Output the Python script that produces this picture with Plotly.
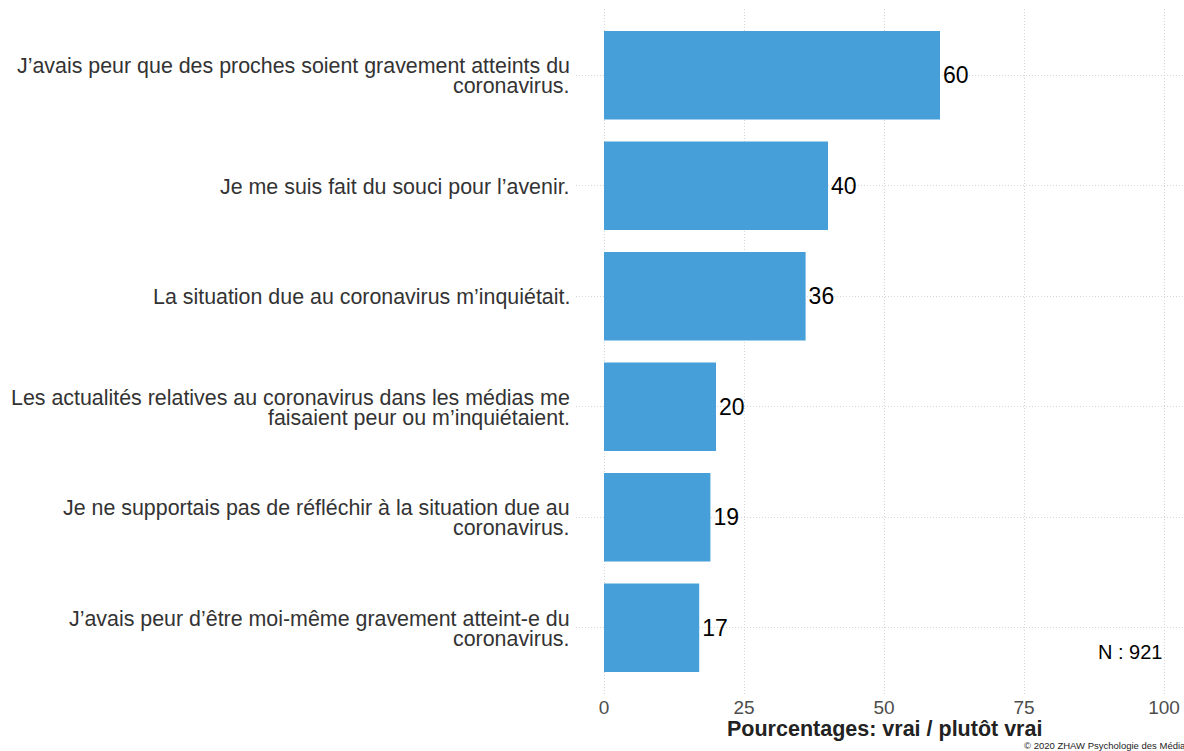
import plotly.graph_objects as go

# Survey items (top to bottom) and share answering "vrai / plutôt vrai"
items = [
    "J’avais peur que des proches soient gravement atteints du<br>coronavirus.",
    "Je me suis fait du souci pour l’avenir.",
    "La situation due au coronavirus m’inquiétait.",
    "Les actualités relatives au coronavirus dans les médias me<br>faisaient peur ou m’inquiétaient.",
    "Je ne supportais pas de réfléchir à la situation due au<br>coronavirus.",
    "J’avais peur d’être moi-même gravement atteint-e du<br>coronavirus.",
]
values = [60, 40, 36, 20, 19, 17]
x_ticks = [0, 25, 50, 75, 100]
n_total = 921

W, H = 1184, 751
FONT = "Liberation Sans, Arial, sans-serif"
BAR = "#469FD8"
GRID = "#D6D6D6"
LABEL_SIZE = 21.4
LINE_GAP = 20  # px between wrapped label lines (tight line height)

cats = list(range(len(items)))

fig = go.Figure(
    go.Bar(
        x=values,
        y=cats,
        orientation="h",
        width=0.8,
        marker=dict(color=BAR, line=dict(width=0)),
        text=[str(v) for v in values],
        textposition="outside",
        textfont=dict(family=FONT, size=23, color="#000000"),
        cliponaxis=False,
        hoverinfo="skip",
    )
)

annotations = []

# Category labels, right-aligned left of the panel, one annotation per line
for i, label in enumerate(items):
    lines = label.split("<br>")
    n = len(lines)
    for k, line in enumerate(lines):
        offset = ((n - 1) / 2 - k) * LINE_GAP
        annotations.append(dict(
            x=0, y=i, xref="paper", yref="y",
            text=line,
            xanchor="right", yanchor="middle",
            xshift=-4, yshift=offset - 1,
            showarrow=False,
            font=dict(family=FONT, size=LABEL_SIZE, color="#333333"),
        ))

# Axis title, centred under the 0–100 scale
annotations.append(dict(
    x=50, y=-35 / (H - 66), xref="x", yref="paper",
    text="<b>Pourcentages: vrai / plutôt vrai</b>",
    xanchor="center", yanchor="middle",
    showarrow=False,
    font=dict(family=FONT, size=21.5, color="#222222"),
))

# Sample size
annotations.append(dict(
    x=100, y=5.22, xref="x", yref="y",
    text=f"N : {n_total}",
    xanchor="right", yanchor="middle",
    showarrow=False,
    font=dict(family=FONT, size=20, color="#000000"),
))

# Copyright line
annotations.append(dict(
    x=(1022 - 576) / (W - 576), y=-57 / (H - 66),
    xref="paper", yref="paper",
    text="© 2020 ZHAW Psychologie des Médias",
    xanchor="left", yanchor="bottom",
    yshift=-2,
    showarrow=False,
    font=dict(family=FONT, size=9.5, color="#222222"),
))

fig.update_layout(
    width=W,
    height=H,
    margin=dict(l=576, r=0, t=9, b=57),
    paper_bgcolor="white",
    plot_bgcolor="white",
    showlegend=False,
    font=dict(family=FONT),
    xaxis=dict(
        range=[-5, 103.57],
        tickvals=x_ticks,
        ticktext=[str(t) for t in x_ticks],
        tickfont=dict(family=FONT, size=19, color="#4D4D4D"),
        showgrid=True,
        gridcolor=GRID,
        griddash="1px,2px",
        gridwidth=1,
        zeroline=False,
        showline=False,
        ticks="",
        ticklabelstandoff=0,
    ),
    yaxis=dict(
        range=[5.6, -0.6],
        tickvals=cats,
        showticklabels=False,
        showgrid=True,
        gridcolor=GRID,
        griddash="1px,2px",
        gridwidth=1,
        zeroline=False,
        showline=False,
        ticks="",
    ),
    annotations=annotations,
)

fig.write_html("out.html")
